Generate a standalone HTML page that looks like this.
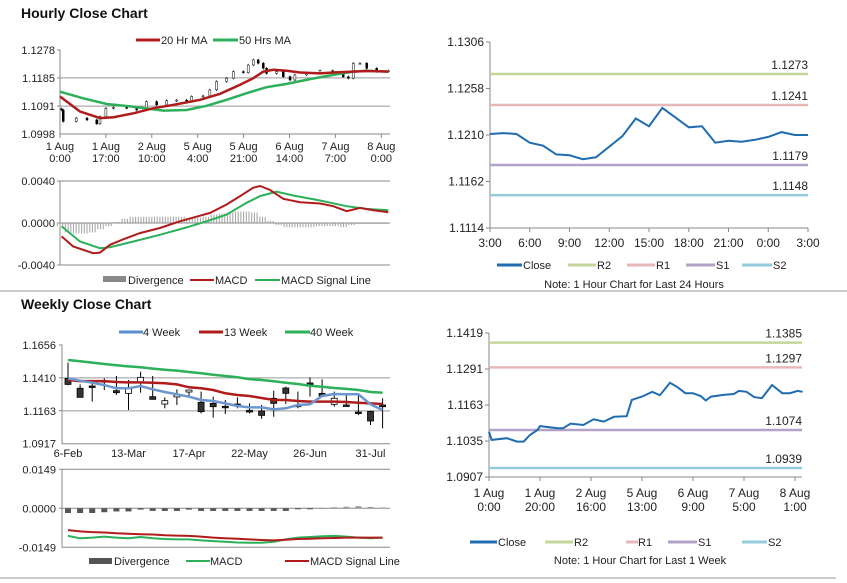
<!DOCTYPE html>
<html><head><meta charset="utf-8"><style>
html,body{margin:0;padding:0;background:#fff;width:847px;height:583px;overflow:hidden}
svg{display:block;font-family:"Liberation Sans",Arial,sans-serif}
</style></head><body>
<svg id="c" width="847" height="583" viewBox="0 0 847 583" xmlns="http://www.w3.org/2000/svg">
<text x="21" y="18" font-size="14" font-weight="bold" fill="#111">Hourly Close Chart</text>
<text x="21" y="309" font-size="14" font-weight="bold" fill="#111">Weekly Close Chart</text>
<line x1="0" y1="291" x2="847" y2="291" stroke="#999" stroke-width="1"/>
<line x1="0" y1="578" x2="836" y2="578" stroke="#999" stroke-width="1"/>
<g font-size="11" fill="#222">
<line x1="136" y1="40" x2="160" y2="40" stroke="#b01c1c" stroke-width="3"/><text x="161" y="44">20 Hr MA</text>
<line x1="213" y1="40" x2="238" y2="40" stroke="#2cb05a" stroke-width="3"/><text x="239" y="44">50 Hrs MA</text>
</g>
<g font-size="11" fill="#222">
<rect x="103" y="276" width="23" height="6" fill="#888"/><text x="128" y="284">Divergence</text>
<line x1="190" y1="280" x2="214" y2="280" stroke="#b01c1c" stroke-width="2"/><text x="215" y="284">MACD</text>
<line x1="255" y1="280" x2="280" y2="280" stroke="#2cb05a" stroke-width="2"/><text x="281" y="284">MACD Signal Line</text>
</g>
<g font-size="11" fill="#222">
<line x1="497" y1="265" x2="522" y2="265" stroke="#1f6cb0" stroke-width="3"/><text x="523" y="269">Close</text>
<line x1="568" y1="265" x2="596" y2="265" stroke="#c4d79b" stroke-width="3"/><text x="597" y="269">R2</text>
<line x1="627" y1="265" x2="655" y2="265" stroke="#e6b9b8" stroke-width="3"/><text x="656" y="269">R1</text>
<line x1="686" y1="265" x2="715" y2="265" stroke="#b3a2c7" stroke-width="3"/><text x="716" y="269">S1</text>
<line x1="742" y1="265" x2="772" y2="265" stroke="#93cddd" stroke-width="3"/><text x="773" y="269">S2</text>
<text x="634" y="288" text-anchor="middle">Note: 1 Hour Chart for Last 24 Hours</text>
</g>
<g font-size="11" fill="#222">
<line x1="119" y1="332" x2="143" y2="332" stroke="#5b8ed0" stroke-width="3"/><text x="143" y="336">4 Week</text>
<line x1="199" y1="332" x2="223" y2="332" stroke="#b01c1c" stroke-width="3"/><text x="224" y="336">13 Week</text>
<line x1="285" y1="332" x2="310" y2="332" stroke="#2cb05a" stroke-width="3"/><text x="310" y="336">40 Week</text>
</g>
<g font-size="11" fill="#222">
<rect x="89" y="558" width="23" height="6" fill="#555"/><text x="114" y="565">Divergence</text>
<line x1="186" y1="561" x2="210" y2="561" stroke="#2cb05a" stroke-width="2"/><text x="210" y="565">MACD</text>
<line x1="285" y1="561" x2="309" y2="561" stroke="#b01c1c" stroke-width="2"/><text x="310" y="565">MACD Signal Line</text>
</g>
<g font-size="11" fill="#222">
<line x1="470" y1="542" x2="497" y2="542" stroke="#1f6cb0" stroke-width="3"/><text x="498" y="546">Close</text>
<line x1="545" y1="542" x2="573" y2="542" stroke="#c4d79b" stroke-width="3"/><text x="574" y="546">R2</text>
<line x1="626" y1="542" x2="638" y2="542" stroke="#e6b9b8" stroke-width="3"/><text x="638" y="546">R1</text>
<line x1="668" y1="542" x2="697" y2="542" stroke="#b3a2c7" stroke-width="3"/><text x="698" y="546">S1</text>
<line x1="742" y1="542" x2="767" y2="542" stroke="#93cddd" stroke-width="3"/><text x="768" y="546">S2</text>
<text x="640" y="564" text-anchor="middle">Note: 1 Hour Chart for Last 1 Week</text>
</g>
</svg>
<script>
const hourlyTicksY = [1.1278, 1.1185, 1.1091, 1.0998];
const hourlyTickHours = [0, 17, 34, 51, 68, 85, 102, 119];
const hourlyTickTop = ['1 Aug','1 Aug','2 Aug','5 Aug','5 Aug','6 Aug','7 Aug','8 Aug'];
const hourlyTickBottom = ['0:00','17:00','10:00','4:00','21:00','14:00','7:00','0:00'];
const hourlyCloseHours = [0.6,1.2,6,10,13.6,14.8,17,19.8,24.7,28.4,32,35.8,39.5,43.2,46.9,48.8,53,55.5,58,61.7,64.2,67.9,69.7,71.6,73.4,75.3,76.5,80.2,82.7,85.2,87,91.3,96.3,101,104.9,106.8,108.6,111.1,113.6,117.3,121.6];
const hourlyClose = [1.1078,1.1040,1.1051,1.1045,1.1032,1.1056,1.1084,1.1087,1.1084,1.1078,1.1106,1.1095,1.1109,1.1111,1.1106,1.1123,1.1125,1.1145,1.1173,1.1184,1.1206,1.1203,1.1228,1.1245,1.1234,1.1217,1.1200,1.1206,1.1189,1.1178,1.1195,1.1200,1.1209,1.1200,1.1189,1.1184,1.1234,1.1234,1.1217,1.1206,1.1209];
const ma20Hours = [0,7.4,14.8,19.8,27.2,34.6,42,51.9,59.3,66.7,71.6,75.3,79,84,88.9,96.3,101.2,108.6,113.6,121.6];
const ma20 = [1.1123,1.1073,1.1051,1.1054,1.1067,1.1084,1.1095,1.1112,1.1132,1.1162,1.1184,1.1206,1.1212,1.1209,1.1203,1.1200,1.1203,1.1206,1.1208,1.1206];
const ma50Hours = [0,8.6,17.3,27.2,38.3,46.9,54.3,61.7,69.1,76.5,84,92.6,101.2,108.6,113.6,121.6];
const ma50 = [1.1139,1.1117,1.1098,1.1089,1.1076,1.1078,1.1092,1.1112,1.1134,1.1154,1.1165,1.1181,1.1195,1.1206,1.1209,1.1206];
const hMacdTicks = [0.0040, 0.0000, -0.0040];
const hMacdHours = [0.6,4.9,12.3,14.8,18.5,23.5,29.6,37,44.4,51.9,55.6,61.7,66.7,71.6,74.1,77.8,82.7,88.9,96.3,101.2,106.2,111.1,116,121.6];
const hMacd = [-0.00128,-0.00224,-0.00288,-0.00282,-0.00208,-0.00154,-0.00096,-0.00048,0.00016,0.0007,0.00096,0.00176,0.00256,0.00336,0.00352,0.00314,0.0023,0.00198,0.00186,0.0016,0.00112,0.00144,0.00122,0.00102];
const hSignalHours = [0.6,7.4,14.8,18.5,27.2,37,46.9,54.3,61.7,69.1,74.1,80.2,86.4,96.3,106.2,113.6,121.6];
const hSignal = [-0.00032,-0.00176,-0.0024,-0.0023,-0.00176,-0.00112,-0.00042,0.00016,0.0008,0.00192,0.00256,0.00298,0.00262,0.00214,0.0016,0.00134,0.00122];
const hDivHours = [0,3,6,9,12,15,18,21,24,27,30,33,36,39,42,45,48,51,54,57,60,63,66,69,72,75,78,81,84,87,90,93,96,99,102,105,108,111,114,117,120];
const hDiv = [-0.0003,-0.0009,-0.001,-0.001,-0.0009,-0.0006,-0.0003,0.0001,0.0004,0.0006,0.0006,0.0006,0.0006,0.0006,0.0006,0.0006,0.0005,0.0005,0.0006,0.0008,0.0009,0.001,0.0011,0.0011,0.001,0.0006,0.0002,-0.0002,-0.0004,-0.0004,-0.0004,-0.0004,-0.0003,-0.0003,-0.0003,-0.0004,-0.0002,-0.0001,-0.0001,-0.0001,-0.0001];

const dayTicksY = [1.1306,1.1258,1.1210,1.1162,1.1114];
const dayTickLabels = ['3:00','6:00','9:00','12:00','15:00','18:00','21:00','0:00','3:00'];
const dayClose = [1.1211,1.1212,1.1211,1.1202,1.1199,1.1190,1.1189,1.1185,1.1187,1.1198,1.1209,1.1227,1.1219,1.1238,1.1228,1.1218,1.1219,1.1202,1.1204,1.1203,1.1205,1.1208,1.1213,1.1210,1.1210];
const dayLevelNames = ['R2','R1','S1','S2'];
const dayLevels = [1.1273,1.1241,1.1179,1.1148];

const weekCats = ['6-Feb','13-Feb','20-Feb','27-Feb','6-Mar','13-Mar','20-Mar','27-Mar','3-Apr','10-Apr','17-Apr','24-Apr','1-May','8-May','15-May','22-May','29-May','5-Jun','12-Jun','19-Jun','26-Jun','3-Jul','10-Jul','17-Jul','24-Jul','31-Jul','7-Aug'];
const weekTickLabels = ['6-Feb','13-Mar','17-Apr','22-May','26-Jun','31-Jul'];
const weekTicksY = [1.1656,1.1410,1.1163,1.0917];
const wOpen  = [1.1406,1.1332,1.1349,1.1389,1.1314,1.1294,1.1374,1.1269,1.1214,1.1267,1.1304,1.1227,1.1219,1.1197,1.1214,1.1167,1.1162,1.1257,1.1334,1.1194,1.1372,1.1294,1.1212,1.1207,1.1154,1.1159,1.1207];
const wClose = [1.1361,1.1264,1.1339,1.1384,1.1299,1.1329,1.1414,1.1249,1.1239,1.1282,1.1319,1.1157,1.1194,1.1189,1.1202,1.1154,1.1129,1.1219,1.1294,1.1207,1.1359,1.1274,1.1257,1.1202,1.1144,1.1087,1.1194];
const wHigh  = [1.1524,1.1361,1.1381,1.1406,1.1424,1.1394,1.1456,1.1424,1.1264,1.1324,1.1319,1.1307,1.1269,1.1244,1.1264,1.1219,1.1207,1.1314,1.1344,1.1307,1.1414,1.1399,1.1307,1.1287,1.1289,1.1164,1.1257];
const wLow   = [1.1356,1.1264,1.1232,1.1319,1.1282,1.1169,1.1299,1.1249,1.1182,1.1207,1.1269,1.1144,1.1112,1.1139,1.1182,1.1144,1.1104,1.1119,1.1214,1.1182,1.1269,1.1269,1.1194,1.1202,1.1132,1.1057,1.1032];
const ma4w  = [1.1406,1.1389,1.1374,1.1356,1.1332,1.1332,1.1349,1.1324,1.1304,1.1287,1.1269,1.1244,1.1237,1.1219,1.1199,1.1189,1.1189,1.1174,1.1182,1.1207,1.1212,1.1274,1.1289,1.1287,1.1287,1.1212,1.1169];
const ma13w = [1.1394,1.1386,1.1386,1.1386,1.1379,1.1376,1.1376,1.1374,1.1369,1.1361,1.1339,1.1332,1.1319,1.1294,1.1282,1.1274,1.1259,1.1244,1.1244,1.1237,1.1232,1.1232,1.1232,1.1229,1.1224,1.1219,1.1214];
const ma40w = [1.1544,1.1534,1.1524,1.1514,1.1504,1.1496,1.1489,1.1479,1.1471,1.1464,1.1454,1.1444,1.1434,1.1424,1.1414,1.1401,1.1394,1.1384,1.1374,1.1364,1.1351,1.1344,1.1334,1.1327,1.1319,1.1304,1.1299];
const wMacdTicks = [0.0149,0.0000,-0.0149];
const wMacd   = [-0.01055,-0.01148,-0.01121,-0.01082,-0.01121,-0.01148,-0.01095,-0.01148,-0.01174,-0.01187,-0.01187,-0.01227,-0.01253,-0.01279,-0.01306,-0.01319,-0.01319,-0.01279,-0.01187,-0.01121,-0.01095,-0.01068,-0.01055,-0.01082,-0.01121,-0.01148,-0.01121];
const wSignal = [-0.00831,-0.00884,-0.0091,-0.00923,-0.0095,-0.00976,-0.00989,-0.01002,-0.01029,-0.01042,-0.01055,-0.01082,-0.01121,-0.01148,-0.01161,-0.01187,-0.01213,-0.01227,-0.012,-0.01174,-0.01161,-0.01148,-0.01134,-0.01121,-0.01121,-0.01121,-0.01121];
const wDiv = [-0.0018,-0.0018,-0.0018,-0.0015,-0.0012,-0.0012,-0.0005,-0.001,-0.001,-0.001,-0.0005,-0.001,-0.001,-0.001,-0.001,-0.001,-0.001,-0.001,-0.001,-0.0003,-0.0001,0.0001,0.0004,0.0006,0.0008,0.0005,0.0003];

const weekHours = [0,1,7,11,13.6,16,19,20,27,29,32,37,41,45,49,54,56,60,64,67,71,74,77,80,83,85,87,92,96,98,101,104,107,110,111,115,118,121,123];
const weekHourClose = [1.1068,1.1039,1.1045,1.1033,1.1033,1.1056,1.1074,1.1088,1.1080,1.1080,1.1097,1.1092,1.1112,1.1104,1.1121,1.1123,1.1181,1.1193,1.1210,1.1198,1.1242,1.1226,1.1205,1.1205,1.1195,1.1179,1.1193,1.1199,1.1202,1.1213,1.1210,1.1191,1.1187,1.1222,1.1234,1.1205,1.1205,1.1213,1.1210];
const weekTicksY2 = [1.1419,1.1291,1.1163,1.1035,1.0907];
const weekTickHours2 = [0,20,40,60,80,100,120];
const weekTickTop2 = ['1 Aug','1 Aug','2 Aug','5 Aug','6 Aug','7 Aug','8 Aug'];
const weekTickBottom2 = ['0:00','20:00','16:00','13:00','9:00','5:00','1:00'];
const weekLevelNames = ['R2','R1','S1','S2'];
const weekLevels = [1.1385,1.1297,1.1074,1.0939];
const levelColors = ['#c4d79b','#e6b9b8','#b3a2c7','#93cddd'];

const NS = 'http://www.w3.org/2000/svg';
const svg = document.getElementById('c');
function el(tag, a) { const e = document.createElementNS(NS, tag); for (const k in a) e.setAttribute(k, a[k]); svg.appendChild(e); return e; }
function txt(x, y, s, anchor, size) { const t = el('text', {x: x, y: y, 'font-size': size || 11, fill: '#222', 'text-anchor': anchor || 'start'}); t.textContent = s; return t; }
function pathD(xs, ys) { return xs.map((x, i) => (i ? 'L' : 'M') + x.toFixed(1) + ',' + ys[i].toFixed(1)).join(' '); }

const hx = h => 60 + h * 2.70;
const hy = v => 50 + (1.1278 - v) / 0.0280 * 84;
const my = v => 223 - v / 0.004 * 42;
const dx = i => 490 + i * (318 / 24);
const dy = v => 42 + (1.1306 - v) / 0.0192 * 186;
const wx = i => 68 + i * 12.1;
const wy = v => 345 + (1.1656 - v) / 0.0739 * 98.7;
const wmy = v => 508.3 - v / 0.0149 * 39;
const rx = h => 489 + h * 2.55;
const ry = v => 333 + (1.1419 - v) / 0.0512 * 144;

// hourly price
hourlyTicksY.forEach((v, i) => {
  if (i > 0 && i < hourlyTicksY.length - 1) { const g = el('line', {x1: 60, x2: 390, y1: hy(v), y2: hy(v), stroke: '#999'});
    
     }
  const t = txt(55, hy(v) + 4, v.toFixed(4), 'end');
  
  
});
let ax = el('path', {d: 'M57,50 H60 V134 H390 M57,78 H60 M57,106 H60', stroke: '#888', fill: 'none'});


hourlyTickHours.forEach((h, i) => {
  const tk = el('line', {x1: hx(h), x2: hx(h), y1: 134, y2: 138, stroke: '#888'});
  
  
  const a = txt(hx(h), 150, hourlyTickTop[i], 'middle');
  
  
  const b = txt(hx(h), 162, hourlyTickBottom[i], 'middle');
  
  
});
hourlyClose.forEach((v, i) => {
  const o = i ? hourlyClose[i - 1] : v + 0.0004;
  const x = hx(hourlyCloseHours[i]);
  const w = el('line', {x1: x, x2: x, y1: hy(Math.max(o, v) + 0.0004), y2: hy(Math.min(o, v) - 0.0004), stroke: '#000', 'stroke-width': 0.7});
  
  
  const top = hy(Math.max(o, v)), bot = hy(Math.min(o, v));
  const r = el('rect', {x: x - 1, y: top, width: 2, height: Math.max(1, bot - top), fill: v < o ? '#000' : '#fff', stroke: '#000', 'stroke-width': 0.5});
  
  
});
let p = el('path', {d: pathD(ma50Hours.map(hx), ma50.map(hy)), stroke: '#2cb05a', 'stroke-width': 2.5, fill: 'none'});


p = el('path', {d: pathD(ma20Hours.map(hx), ma20.map(hy)), stroke: '#b01c1c', 'stroke-width': 2.5, fill: 'none'});



// hourly macd
hMacdTicks.forEach(v => {
  const t = txt(55, my(v) + 4, v.toFixed(4), 'end');
  
  
});
ax = el('path', {d: 'M57,181 H60 V265 H390 M57,223 H60 M57,265 H60 M60,181 H390', stroke: '#888', fill: 'none'});


hDiv.forEach((v, i) => {
  const y0 = my(0), y1 = my(v);
  for (let k = -1; k <= 1; k++) {
    const b = el('line', {x1: hx(hDivHours[i]) + k * 2.7, x2: hx(hDivHours[i]) + k * 2.7, y1: y0, y2: y1, stroke: '#a8a8a8', 'stroke-width': 1.1});
    
    
  }
});
ax = el('line', {x1: 60, x2: 390, y1: 223, y2: 223, stroke: '#888'});


p = el('path', {d: pathD(hSignalHours.map(hx), hSignal.map(my)), stroke: '#2cb05a', 'stroke-width': 2, fill: 'none'});


p = el('path', {d: pathD(hMacdHours.map(hx), hMacd.map(my)), stroke: '#b01c1c', 'stroke-width': 2, fill: 'none'});



// 24h chart
dayTicksY.forEach(v => {
  const t = txt(484, dy(v) + 4, v.toFixed(4), 'end', 12);
  
  
  const tk = el('line', {x1: 486, x2: 490, y1: dy(v), y2: dy(v), stroke: '#888'});
  
  
});
ax = el('path', {d: 'M490,42 V228 H808', stroke: '#888', fill: 'none'});


dayTickLabels.forEach((s, i) => {
  const x = dx(i * 3);
  const tk = el('line', {x1: x, x2: x, y1: 228, y2: 232, stroke: '#888'});
  
  
  const t = txt(x, 247, s, 'middle', 12);
  
  
});
dayLevels.forEach((v, i) => {
  const l = el('line', {x1: 490, x2: 808, y1: dy(v), y2: dy(v), stroke: levelColors[i], 'stroke-width': 2.5});
  
  
  const t = txt(808, dy(v) - 5, v.toFixed(4), 'end', 12);
  
  
});
p = el('path', {d: pathD(dayClose.map((v, i) => dx(i)), dayClose.map(dy)), stroke: '#1f6cb0', 'stroke-width': 2, fill: 'none'});



// weekly candles
weekTicksY.forEach((v, i) => {
  if (i > 0 && i < weekTicksY.length - 1) { const g = el('line', {x1: 62, x2: 390, y1: wy(v), y2: wy(v), stroke: '#999'});
    
     }
  const t = txt(56, wy(v) + 4, v.toFixed(4), 'end');
  
  
});
ax = el('path', {d: 'M59,345 H62 V443.7 H390 M59,377.7 H62 M59,410.6 H62', stroke: '#888', fill: 'none'});


weekTickLabels.forEach(s => {
  const i = weekCats.indexOf(s);
  const t = txt(wx(i), 457, s, 'middle');
  
  
});
wOpen.forEach((o, i) => {
  const c = wClose[i], x = wx(i);
  const w = el('line', {x1: x, x2: x, y1: wy(wHigh[i]), y2: wy(wLow[i]), stroke: '#000', 'stroke-width': 1});
  
  
  const top = wy(Math.max(o, c)), bot = wy(Math.min(o, c));
  const r = el('rect', {x: x - 3, y: top, width: 6, height: Math.max(1.5, bot - top), fill: c < o ? '#333' : '#fff', stroke: '#000', 'stroke-width': 0.8});
  
  
});
p = el('path', {d: pathD(ma40w.map((v, i) => wx(i)), ma40w.map(wy)), stroke: '#2cb05a', 'stroke-width': 2.5, fill: 'none'});


p = el('path', {d: pathD(ma13w.map((v, i) => wx(i)), ma13w.map(wy)), stroke: '#b01c1c', 'stroke-width': 2.5, fill: 'none'});


p = el('path', {d: pathD(ma4w.map((v, i) => wx(i)), ma4w.map(wy)), stroke: '#6b96cf', 'stroke-width': 2.5, fill: 'none'});



// weekly macd
wMacdTicks.forEach(v => {
  const t = txt(56, wmy(v) + 4, v.toFixed(4), 'end');
  
  
});
ax = el('path', {d: 'M59,469.3 H62 V547.3 H390 M59,508.3 H62 M62,469.3 H390', stroke: '#888', fill: 'none'});


ax = el('line', {x1: 62, x2: 390, y1: 508.3, y2: 508.3, stroke: '#888'});


wDiv.forEach((v, i) => {
  const y0 = wmy(0), y1 = wmy(v);
  const b = el('rect', {x: wx(i) - 3, y: Math.min(y0, y1), width: 6, height: Math.max(1, Math.abs(y1 - y0)), fill: v < 0 ? '#555' : '#999'});
  
  
});
p = el('path', {d: pathD(wMacd.map((v, i) => wx(i)), wMacd.map(wmy)), stroke: '#2cb05a', 'stroke-width': 2, fill: 'none'});


p = el('path', {d: pathD(wSignal.map((v, i) => wx(i)), wSignal.map(wmy)), stroke: '#b01c1c', 'stroke-width': 2, fill: 'none'});



// 1 week chart
weekTicksY2.forEach(v => {
  const t = txt(483, ry(v) + 4, v.toFixed(4), 'end', 12);
  
  
  const tk = el('line', {x1: 485, x2: 489, y1: ry(v), y2: ry(v), stroke: '#888'});
  
  
});
ax = el('path', {d: 'M489,333 V477 H802', stroke: '#888', fill: 'none'});


weekTickHours2.forEach((h, i) => {
  const x = rx(h);
  const tk = el('line', {x1: x, x2: x, y1: 477, y2: 481, stroke: '#888'});
  
  
  const a = txt(x, 497, weekTickTop2[i], 'middle', 12);
  
  
  const b = txt(x, 511, weekTickBottom2[i], 'middle', 12);
  
  
});
weekLevels.forEach((v, i) => {
  const l = el('line', {x1: 489, x2: 802, y1: ry(v), y2: ry(v), stroke: levelColors[i], 'stroke-width': 2.5});
  
  
  const t = txt(802, ry(v) - 5, v.toFixed(4), 'end', 12);
  
  
});
p = el('path', {d: pathD(weekHours.map(rx), weekHourClose.map(ry)), stroke: '#1f6cb0', 'stroke-width': 2, fill: 'none'});


</script>
</body></html>
